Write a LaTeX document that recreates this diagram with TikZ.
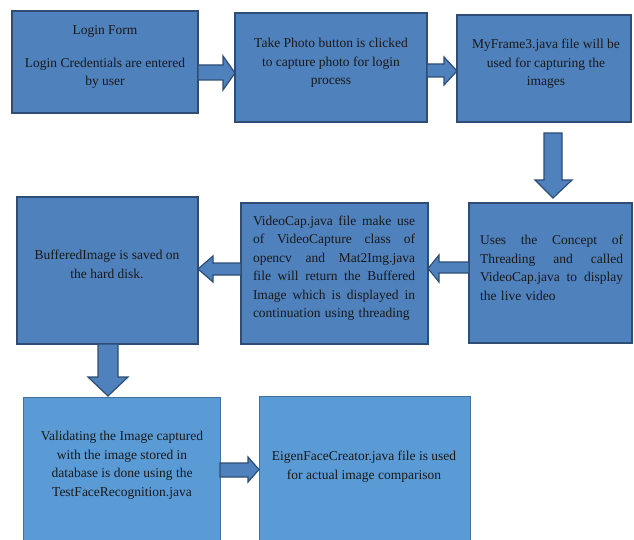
\documentclass[tikz,border=0pt]{standalone}
\usepackage{fontspec}
\setmainfont{Liberation Serif}
\definecolor{dfill}{HTML}{4F81BD}
\definecolor{dline}{HTML}{2E4D74}
\definecolor{lfill}{HTML}{5B9BD5}
\definecolor{lline}{HTML}{41719C}
\newcommand{\jline}[2]{\leavevmode\hbox to #1{#2}}
\newcommand{\gsp}{\hfill}
\begin{document}
\begin{tikzpicture}[x=1pt,y=-1pt,
  darkbox/.style={draw=dline, line width=1.6pt, fill=dfill, inner sep=0pt, outer sep=0pt},
  lightbox/.style={draw=lline, line width=0.8pt, fill=lfill, inner sep=0pt, outer sep=0pt},
  blockarr/.style={draw=dline, line width=1.2pt, fill=dfill, line join=miter},
  txt/.style={font=\fontsize{13.5}{18.5}\selectfont, align=center, inner sep=0pt, text=black!90},
  jtxt/.style={txt, align=left}]
\useasboundingbox (0,0) rectangle (634,540);
\clip (0,0) rectangle (634,540);

% boxes
\node[darkbox, minimum width=186, minimum height=102] (b1) at (105,62) {};
\node[darkbox, minimum width=192, minimum height=109] (b2) at (331,67.5) {};
\node[darkbox, minimum width=174, minimum height=107] (b3) at (544,68.5) {};
\node[darkbox, minimum width=163, minimum height=140] (b4) at (550.5,273) {};
\node[darkbox, minimum width=187, minimum height=141] (b5) at (334.5,273.5) {};
\node[darkbox, minimum width=181, minimum height=147] (b6) at (107.5,270.5) {};
\node[lightbox, minimum width=197, minimum height=151] (b7) at (121.5,472.5) {};
\node[lightbox, minimum width=211, minimum height=152] (b8) at (364.5,472) {};

% texts
\node[txt] (t1a) at (105,31) {Login Form};
\node[txt] (t1b) at (105,73.5) {Login Credentials are entered\\by user};
\node[txt] (t2) at (331,63) {Take Photo button is clicked\\to capture photo for login\\process};
\node[txt] (t3) at (546,64) {MyFrame3.java file will be\\used for capturing the\\images};
\node[jtxt, text width=143] (t4) at (551.5,268) {\jline{143pt}{Uses\gsp the\gsp Concept\gsp of}\\\jline{143pt}{Threading\gsp and\gsp called}\\\jline{143pt}{VideoCap.java\gsp to\gsp display}\\the live video};
\node[jtxt, text width=162] (t5) at (334,268) {\jline{162pt}{VideoCap.java\gsp file\gsp make\gsp use}\\\jline{162pt}{of\gsp VideoCapture\gsp class\gsp of}\\\jline{162pt}{opencv\gsp and\gsp Mat2Img.java}\\\jline{162pt}{file\gsp will\gsp return\gsp the\gsp Buffered}\\\jline{162pt}{Image\gsp which\gsp is\gsp displayed\gsp in}\\continuation using threading};
\node[txt] (t6) at (107,264.5) {BufferedImage is saved on\\the hard disk.};
\node[txt] (t7) at (122,465.5) {Validating the Image captured\\with the image stored in\\database is done using the\\TestFaceRecognition.java};
\node[txt] (t8) at (364,466.5) {EigenFaceCreator.java file is used\\for actual image comparison};

% block arrows
\draw[blockarr] (b1.east |- 0,65) -- (223,65) -- (223,56) -- (b2.west |- 0,73) -- (223,90) -- (223,80) -- (b1.east |- 0,80) -- cycle;
\draw[blockarr] (b2.east |- 0,64) -- (444,64) -- (444,57) -- (b3.west |- 0,71) -- (444,85) -- (444,77) -- (b2.east |- 0,77) -- cycle;
\draw[blockarr] (544,133) -- (562,133) -- (562,180) -- (572,180) -- (553,198) -- (535,180) -- (544,180) -- cycle;
\draw[blockarr] (b4.west |- 0,262) -- (439,262) -- (439,255) -- (b5.east |- 0,268.5) -- (439,282) -- (439,273) -- (b4.west |- 0,273) -- cycle;
\draw[blockarr] (b5.west |- 0,263) -- (213,263) -- (213,256) -- (b6.east |- 0,269) -- (213,282) -- (213,275) -- (b5.west |- 0,275) -- cycle;
\draw[blockarr] (98,0 |- b6.south) -- (98,377) -- (88,377) -- (108,396) -- (128,377) -- (118,377) -- (118,0 |- b6.south) -- cycle;
\draw[blockarr] (b7.east |- 0,463) -- (248,463) -- (248,457) -- (b8.west |- 0,469.5) -- (248,482) -- (248,477) -- (b7.east |- 0,477) -- cycle;
\end{tikzpicture}
\end{document}
